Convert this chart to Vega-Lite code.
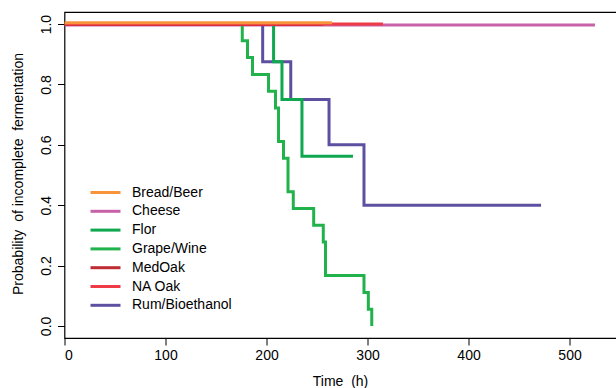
{
  "$schema": "https://vega.github.io/schema/vega-lite/v6.json",
  "autosize": {"type": "none"},
  "padding": {"left": 64.5, "top": 12, "right": 0, "bottom": 50},
  "width": 552,
  "height": 326,
  "background": "white",
  "config": {
    "font": "Liberation Sans",
    "view": {"stroke": "black", "strokeWidth": 1.2},
    "axis": {"domain": false, "grid": false, "tickColor": "black", "tickSize": 7, "tickWidth": 1, "labelColor": "black", "titleColor": "black", "labelFontSize": 14, "titleFontSize": 14, "titleFontWeight": "normal", "labelFont": "Liberation Sans", "titleFont": "Liberation Sans"}
  },
  "data": {
    "values": [
      {"g": "Cheese", "t": 0, "p": 0.997},
      {"g": "Cheese", "t": 525.2, "p": 0.997},
      {"g": "Rum/Bioethanol", "t": 0, "p": 1},
      {"g": "Rum/Bioethanol", "t": 196.2, "p": 0.875},
      {"g": "Rum/Bioethanol", "t": 224, "p": 0.75},
      {"g": "Rum/Bioethanol", "t": 261.9, "p": 0.6},
      {"g": "Rum/Bioethanol", "t": 296.5, "p": 0.4},
      {"g": "Rum/Bioethanol", "t": 471.8, "p": 0.4},
      {"g": "Flor", "t": 0, "p": 1},
      {"g": "Flor", "t": 207, "p": 0.875},
      {"g": "Flor", "t": 215.3, "p": 0.75},
      {"g": "Flor", "t": 235.1, "p": 0.5625},
      {"g": "Flor", "t": 285.6, "p": 0.5625},
      {"g": "Grape/Wine", "t": 0, "p": 1},
      {"g": "Grape/Wine", "t": 176, "p": 0.9444},
      {"g": "Grape/Wine", "t": 181.2, "p": 0.8889},
      {"g": "Grape/Wine", "t": 186.1, "p": 0.8333},
      {"g": "Grape/Wine", "t": 202, "p": 0.7778},
      {"g": "Grape/Wine", "t": 208.9, "p": 0.7222},
      {"g": "Grape/Wine", "t": 211.9, "p": 0.6111},
      {"g": "Grape/Wine", "t": 216.8, "p": 0.5556},
      {"g": "Grape/Wine", "t": 221.3, "p": 0.4444},
      {"g": "Grape/Wine", "t": 226.5, "p": 0.3889},
      {"g": "Grape/Wine", "t": 246.7, "p": 0.3333},
      {"g": "Grape/Wine", "t": 256.2, "p": 0.2778},
      {"g": "Grape/Wine", "t": 258.4, "p": 0.1667},
      {"g": "Grape/Wine", "t": 296.5, "p": 0.1111},
      {"g": "Grape/Wine", "t": 300.8, "p": 0.0556},
      {"g": "Grape/Wine", "t": 304.2, "p": 0},
      {"g": "MedOak", "t": 0, "p": 0.999},
      {"g": "MedOak", "t": 256, "p": 0.999},
      {"g": "NA Oak", "t": 0, "p": 1.0},
      {"g": "NA Oak", "t": 315.3, "p": 1.0},
      {"g": "Bread/Beer", "t": 0, "p": 1.004},
      {"g": "Bread/Beer", "t": 264.9, "p": 1.004}
    ]
  },
  "mark": {"type": "line", "interpolate": "step-after", "strokeWidth": 3, "clip": true},
  "encoding": {
    "x": {
      "field": "t", "type": "quantitative",
      "scale": {"domain": [0, 546.5], "nice": false, "zero": false},
      "axis": {"values": [0, 100, 200, 300, 400, 500], "title": "Time\u00a0 (h)", "labelPadding": 3, "titleX": 275.5, "titleY": 43, "titleBaseline": "middle", "titleAlign": "center"}
    },
    "y": {
      "field": "p", "type": "quantitative",
      "scale": {"domain": [-0.04, 1.04], "nice": false, "zero": false},
      "axis": {"values": [0, 0.2, 0.4, 0.6, 0.8, 1.0], "format": ".1f", "labelAngle": -90, "labelAlign": "center", "labelBaseline": "alphabetic", "labelPadding": 7.5, "title": "Probability\u00a0 of incomplete\u00a0 fermentation", "titleX": -46.5, "titleY": 161.5, "titleAngle": -90, "titleAlign": "center", "titleBaseline": "middle"}
    },
    "color": {
      "field": "g", "type": "nominal",
      "scale": {
        "domain": ["Bread/Beer", "Cheese", "Flor", "Grape/Wine", "MedOak", "NA Oak", "Rum/Bioethanol"],
        "range": ["#F7943C", "#C862A8", "#0FA84F", "#22B24B", "#BF2B33", "#EF3B46", "#5E50A1"]
      },
      "legend": {
        "orient": "none", "legendX": 32, "legendY": 171.5, "title": null, "padding": 0,
        "symbolType": "M-2,0H2", "symbolSize": 225, "symbolStrokeWidth": 3, "symbolFillColor": "transparent",
        "labelOffset": 17.5, "labelFontSize": 14, "labelFont": "Liberation Sans", "labelColor": "black", "rowPadding": 2.8, "labelLimit": 300
      }
    },
    "order": {"value": 0}
  }
}
